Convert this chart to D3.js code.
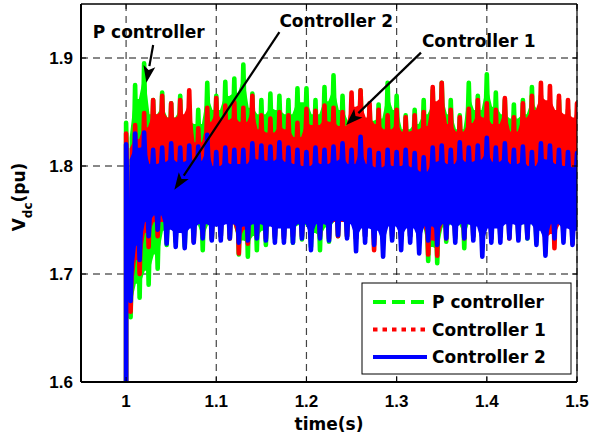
<!DOCTYPE html>
<html>
<head>
<meta charset="utf-8">
<script src="https://cdn.jsdelivr.net/npm/d3@7"></script>
<style>
  html, body { margin: 0; padding: 0; background: #fff; }
  text { font-family: "DejaVu Sans", sans-serif; font-weight: bold; }
  text.tick { font-family: "Liberation Sans", Arial, sans-serif; }
</style>
</head>
<body>
<script>
// ---- data ----
const xTicks = [1.0, 1.1, 1.2, 1.3, 1.4, 1.5];
const yTicks = [1.6, 1.7, 1.8, 1.9];
const xDomain = [0.95, 1.5];
const yDomain = [1.6, 1.95];
const startPoint = [1.0, 1.6];
// peak times (every 10 ms), troughs are halfway between peaks
const peakTimes = d3.range(0, 51).map(i => 1.0 + i * 0.01);
const troughOffset = 0.005;

const seriesNames = ["P controller", "Controller 1", "Controller 2"];

const greenPeak = [1.840,1.875,1.895,1.861,1.868,1.858,1.865,1.854,1.852,1.877,
 1.865,1.878,1.881,1.894,1.867,1.861,1.867,1.865,1.861,1.872,
 1.872,1.861,1.873,1.884,1.865,1.855,1.870,1.855,1.857,1.877,
 1.865,1.847,1.852,1.861,1.870,1.877,1.861,1.847,1.877,1.865,
 1.885,1.868,1.861,1.857,1.861,1.873,1.865,1.855,1.861,1.852,
 1.847];
const greenTrough = [1.660,1.678,1.690,1.705,1.727,1.730,1.726,1.733,1.722,1.732,
 1.735,1.733,1.718,1.716,1.722,1.727,1.733,1.735,1.729,1.732,
 1.725,1.722,1.730,1.735,1.735,1.733,1.735,1.733,1.735,1.733,
 1.733,1.735,1.733,1.712,1.710,1.730,1.733,1.724,1.735,1.735,
 1.733,1.735,1.735,1.733,1.733,1.730,1.735,1.735,1.735,1.735];

const redPeak = [1.830,1.838,1.849,1.861,1.865,1.858,1.861,1.870,1.835,1.854,
 1.863,1.856,1.859,1.854,1.865,1.847,1.844,1.850,1.847,1.840,
 1.853,1.851,1.856,1.854,1.850,1.868,1.870,1.858,1.852,1.847,
 1.852,1.845,1.847,1.850,1.873,1.877,1.852,1.845,1.853,1.861,
 1.858,1.852,1.863,1.845,1.858,1.865,1.877,1.874,1.865,1.861,
 1.858];
const redTrough = [1.665,1.700,1.725,1.735,1.735,1.733,1.735,1.730,1.735,1.733,
 1.735,1.733,1.719,1.728,1.735,1.733,1.735,1.733,1.735,1.735,
 1.733,1.735,1.733,1.735,1.735,1.733,1.735,1.722,1.733,1.735,
 1.733,1.735,1.733,1.718,1.717,1.733,1.735,1.733,1.735,1.735,
 1.733,1.735,1.733,1.735,1.735,1.733,1.720,1.724,1.733,1.728];

const bluePeak = [1.820,1.830,1.831,1.815,1.817,1.821,1.817,1.819,1.818,1.829,
 1.813,1.817,1.815,1.815,1.821,1.819,1.818,1.822,1.817,1.815,
 1.813,1.817,1.815,1.818,1.821,1.815,1.827,1.815,1.812,1.815,
 1.813,1.815,1.812,1.808,1.817,1.819,1.815,1.822,1.817,1.819,
 1.826,1.817,1.821,1.815,1.818,1.813,1.821,1.819,1.815,1.813,
 1.812];
const blueTrough = [1.675,1.713,1.735,1.741,1.728,1.725,1.724,1.729,1.733,1.731,
 1.731,1.733,1.729,1.731,1.733,1.731,1.729,1.729,1.729,1.733,
 1.722,1.733,1.731,1.736,1.733,1.721,1.729,1.727,1.716,1.731,
 1.722,1.729,1.719,1.731,1.727,1.733,1.729,1.733,1.731,1.716,
 1.729,1.729,1.733,1.731,1.733,1.727,1.717,1.733,1.729,1.727];

// annotations: [label, textT, textV, arrowFromT, arrowFromV, arrowToT, arrowToV]
const annotations = [
  ["P controller", 0.963, 1.9185, 1.030, 1.912, 1.0225, 1.877],
  ["Controller 2", 1.170, 1.929, 1.170, 1.924, 1.0535, 1.778],
  ["Controller 1", 1.328, 1.910, 1.327, 1.905, 1.244, 1.838]
];

// ---- layout ----
const W = 590, H = 441;
const L = 81, R = 577, T = 4, B = 382;
const colors = ["#00ff00", "#ff0000", "#0000ff"];
const coreInset = 0.014;

const x = d3.scaleLinear().domain(xDomain).range([L, R]);
const y = d3.scaleLinear().domain(yDomain).range([B, T]);

const svg = d3.select("body").append("svg").attr("width", W).attr("height", H);

svg.append("defs").append("clipPath").attr("id", "clip")
  .append("rect").attr("x", L).attr("y", T).attr("width", R - L).attr("height", B - T);

// grid
const grid = svg.append("g");
grid.selectAll(".vg").data(xTicks).join("line")
  .attr("x1", d => x(d)).attr("x2", d => x(d)).attr("y1", T).attr("y2", B)
  .attr("stroke", "#444").attr("stroke-width", 1.2).attr("stroke-dasharray", "7,5");
grid.selectAll(".hg").data(yTicks.slice(1)).join("line")
  .attr("x1", L).attr("x2", R).attr("y1", d => y(d)).attr("y2", d => y(d))
  .attr("stroke", "#111").attr("stroke-width", 1).attr("stroke-dasharray", "7,5");

// series
function buildPoints(peaks, troughs) {
  const pts = [startPoint];
  peaks.forEach((p, i) => {
    pts.push([peakTimes[i], p]);
    if (i < troughs.length) pts.push([peakTimes[i] + troughOffset, troughs[i]]);
  });
  return pts;
}
// solid core of the oscillation band: [t, low, high]
function buildCore(peaks, troughs) {
  const core = [];
  troughs.forEach((tr, i) => {
    if (i > 0) {
      core.push([peakTimes[i], Math.max(troughs[i - 1], tr) + coreInset, peaks[i] - coreInset]);
    }
    core.push([peakTimes[i] + troughOffset, tr + coreInset,
               Math.min(peaks[i], peaks[i + 1]) - coreInset]);
  });
  core.push([peakTimes[peaks.length - 1], troughs[troughs.length - 1] + coreInset,
             peaks[peaks.length - 1] - coreInset]);
  return core;
}
const allSeries = [
  [greenPeak, greenTrough],
  [redPeak, redTrough],
  [bluePeak, blueTrough]
];
const line = d3.line().x(d => x(d[0])).y(d => y(d[1]));
const area = d3.area().x(d => x(d[0])).y0(d => y(d[1])).y1(d => y(d[2]));
const plot = svg.append("g").attr("clip-path", "url(#clip)");
allSeries.forEach(([pk, tr], i) => {
  plot.append("path").attr("d", area(buildCore(pk, tr)))
    .attr("fill", colors[i]).attr("stroke", colors[i]).attr("stroke-width", 2);
  plot.append("path").attr("d", line(buildPoints(pk, tr)))
    .attr("fill", "none").attr("stroke", colors[i]).attr("stroke-width", 4.6)
    .attr("stroke-linejoin", "round").attr("stroke-linecap", "round");
});

// frame
svg.append("line").attr("x1", L).attr("x2", R).attr("y1", T).attr("y2", T).attr("stroke", "#000").attr("stroke-width", 1.5);
svg.append("line").attr("x1", R).attr("x2", R).attr("y1", T).attr("y2", B).attr("stroke", "#000").attr("stroke-width", 1.2);
svg.append("line").attr("x1", L).attr("x2", R).attr("y1", B).attr("y2", B).attr("stroke", "#000").attr("stroke-width", 2);
svg.append("line").attr("x1", L).attr("x2", L).attr("y1", T).attr("y2", B).attr("stroke", "#000").attr("stroke-width", 2);

// ticks
const tk = svg.append("g").attr("stroke", "#000").attr("stroke-width", 1);
xTicks.forEach(d => {
  tk.append("line").attr("x1", x(d)).attr("x2", x(d)).attr("y1", B).attr("y2", B - 5);
  tk.append("line").attr("x1", x(d)).attr("x2", x(d)).attr("y1", T).attr("y2", T + 5);
});
yTicks.forEach(d => {
  tk.append("line").attr("x1", L).attr("x2", L + 5).attr("y1", y(d)).attr("y2", y(d));
  tk.append("line").attr("x1", R).attr("x2", R - 5).attr("y1", y(d)).attr("y2", y(d));
});

const fmtX = d => (d === 1 ? "1" : d3.format(".1f")(d));
svg.selectAll(".xl").data(xTicks).join("text").attr("class", "tick")
  .attr("x", d => x(d)).attr("y", 407).attr("text-anchor", "middle")
  .attr("font-size", 17).text(fmtX);
svg.selectAll(".yl").data(yTicks).join("text").attr("class", "tick")
  .attr("x", L - 8).attr("y", d => y(d) + 6).attr("text-anchor", "end")
  .attr("font-size", 17).text(d => d3.format(".1f")(d));

// axis labels
svg.append("text").attr("x", (L + R) / 2).attr("y", 430).attr("text-anchor", "middle")
  .attr("font-size", 17).text("time(s)");
const yl = svg.append("text").attr("transform", "translate(25,197) rotate(-90)")
  .attr("text-anchor", "middle").attr("font-size", 17);
yl.append("tspan").text("V");
yl.append("tspan").attr("font-size", 12).attr("dy", 7).text("dc");
yl.append("tspan").attr("dy", -7).text("(pu)");

// legend
const lg = svg.append("g");
lg.append("rect").attr("x", 362).attr("y", 283).attr("width", 209).attr("height", 91)
  .attr("fill", "#fff").attr("stroke", "#000").attr("stroke-width", 1);
const dashes = ["13,6", "4.5,5", null];
seriesNames.forEach((name, i) => {
  const yy = 302 + i * 27.5;
  const l = lg.append("line").attr("x1", 373).attr("x2", 427).attr("y1", yy).attr("y2", yy)
    .attr("stroke", colors[i]).attr("stroke-width", 4);
  if (dashes[i]) l.attr("stroke-dasharray", dashes[i]);
  lg.append("text").attr("x", 432).attr("y", yy + 6).attr("font-size", 17).text(name);
});

// annotations
const an = svg.append("g");
annotations.forEach(a => {
  const [label, tt, tv, ft, fv, tt2, tv2] = a;
  an.append("text").attr("x", x(tt)).attr("y", y(tv)).attr("font-size", 17).text(label);
  const x1 = x(ft), y1 = y(fv), x2 = x(tt2), y2 = y(tv2);
  const ang = Math.atan2(y2 - y1, x2 - x1);
  const len = 17, hw = 6;
  const bx = x2 - len * Math.cos(ang), by = y2 - len * Math.sin(ang);
  an.append("line").attr("x1", x1).attr("y1", y1).attr("x2", bx).attr("y2", by)
    .attr("stroke", "#000").attr("stroke-width", 2.2);
  const p1 = [bx + hw * Math.sin(ang), by - hw * Math.cos(ang)];
  const p2 = [bx - hw * Math.sin(ang), by + hw * Math.cos(ang)];
  an.append("path").attr("d", `M${x2},${y2}L${p1[0]},${p1[1]}L${bx + 4*Math.cos(ang)},${by + 4*Math.sin(ang)}L${p2[0]},${p2[1]}Z`)
    .attr("fill", "#000");
});
</script>
</body>
</html>
